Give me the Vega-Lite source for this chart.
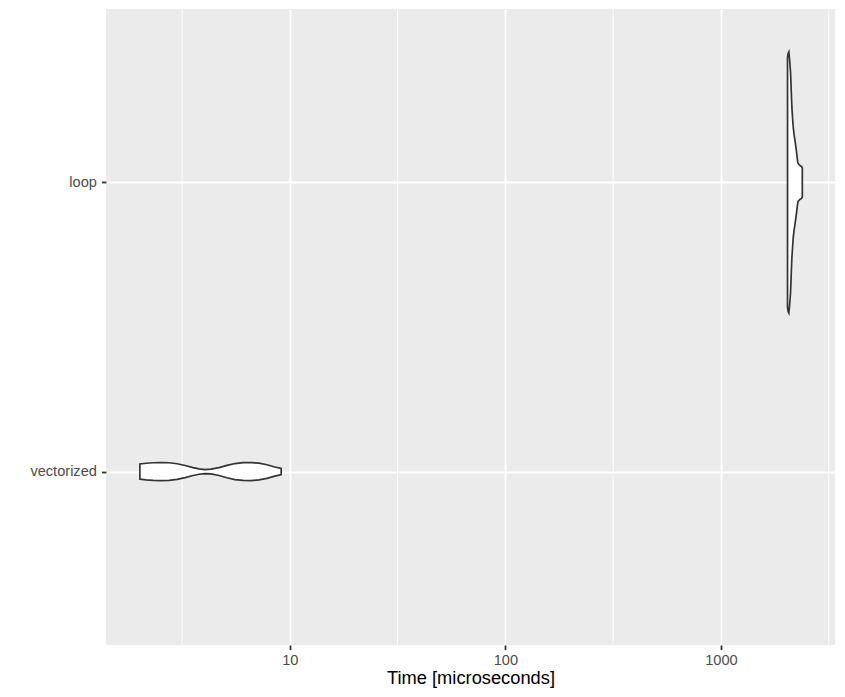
{
  "$schema": "https://vega.github.io/schema/vega-lite/v6.json",
  "width": 729,
  "height": 636,
  "autosize": {"type": "none"},
  "padding": {"left": 106, "top": 9, "right": 10, "bottom": 52},
  "background": "white",
  "config": {
    "view": {"fill": "#EBEBEB", "stroke": null},
    "font": "Liberation Sans"
  },
  "datasets": {
    "violin": [
      {"group": "vectorized", "time": 2.015, "lo": 0.974, "hi": 1.026},
      {"group": "vectorized", "time": 2.154, "lo": 0.9713, "hi": 1.0287},
      {"group": "vectorized", "time": 2.321, "lo": 0.9696, "hi": 1.0304},
      {"group": "vectorized", "time": 2.527, "lo": 0.9689, "hi": 1.0311},
      {"group": "vectorized", "time": 2.754, "lo": 0.9696, "hi": 1.0304},
      {"group": "vectorized", "time": 2.998, "lo": 0.973, "hi": 1.027},
      {"group": "vectorized", "time": 3.265, "lo": 0.9792, "hi": 1.0208},
      {"group": "vectorized", "time": 3.555, "lo": 0.9862, "hi": 1.0138},
      {"group": "vectorized", "time": 3.791, "lo": 0.9907, "hi": 1.0093},
      {"group": "vectorized", "time": 4.042, "lo": 0.9931, "hi": 1.0069},
      {"group": "vectorized", "time": 4.309, "lo": 0.9917, "hi": 1.0083},
      {"group": "vectorized", "time": 4.692, "lo": 0.9862, "hi": 1.0138},
      {"group": "vectorized", "time": 5.108, "lo": 0.9785, "hi": 1.0215},
      {"group": "vectorized", "time": 5.565, "lo": 0.9723, "hi": 1.0277},
      {"group": "vectorized", "time": 6.059, "lo": 0.9692, "hi": 1.0308},
      {"group": "vectorized", "time": 6.598, "lo": 0.9689, "hi": 1.0311},
      {"group": "vectorized", "time": 7.186, "lo": 0.9709, "hi": 1.0291},
      {"group": "vectorized", "time": 7.826, "lo": 0.9765, "hi": 1.0235},
      {"group": "vectorized", "time": 8.432, "lo": 0.9834, "hi": 1.0166},
      {"group": "vectorized", "time": 9.115, "lo": 0.9896, "hi": 1.0104},
      {"group": "loop", "time": 2036, "lo": 1.5675, "hi": 2.4325},
      {"group": "loop", "time": 2050, "lo": 1.5536, "hi": 2.4464},
      {"group": "loop", "time": 2065, "lo": 1.5484, "hi": 2.4516},
      {"group": "loop", "time": 2083, "lo": 1.5779, "hi": 2.4221},
      {"group": "loop", "time": 2103, "lo": 1.6194, "hi": 2.3806},
      {"group": "loop", "time": 2118, "lo": 1.6817, "hi": 2.3183},
      {"group": "loop", "time": 2132, "lo": 1.737, "hi": 2.263},
      {"group": "loop", "time": 2148, "lo": 1.7751, "hi": 2.2249},
      {"group": "loop", "time": 2162, "lo": 1.8062, "hi": 2.1938},
      {"group": "loop", "time": 2183, "lo": 1.8339, "hi": 2.1661},
      {"group": "loop", "time": 2201, "lo": 1.8512, "hi": 2.1488},
      {"group": "loop", "time": 2237, "lo": 1.8893, "hi": 2.1107},
      {"group": "loop", "time": 2268, "lo": 1.9273, "hi": 2.0727},
      {"group": "loop", "time": 2280, "lo": 1.9343, "hi": 2.0657},
      {"group": "loop", "time": 2322, "lo": 1.9412, "hi": 2.0588},
      {"group": "loop", "time": 2364, "lo": 1.9446, "hi": 2.0554},
      {"group": "loop", "time": 2385, "lo": 1.9498, "hi": 2.0502}
    ],
    "minor": [
      {"time": 3.162},
      {"time": 31.62},
      {"time": 316.2},
      {"time": 3162}
    ]
  },
  "encoding": {
    "x": {
      "field": "time",
      "type": "quantitative",
      "scale": {"type": "log", "domain": [1.403, 3381], "nice": false, "zero": false},
      "axis": {
        "title": "Time [microseconds]",
        "titleFontSize": 18.3,
        "titleColor": "#000000",
        "titleFontWeight": "normal",
        "titlePadding": 2,
        "values": [10, 100, 1000],
        "format": "d",
        "labelFontSize": 14.6,
        "labelColor": "#4D4D4D",
        "labelPadding": 3,
        "tickColor": "#333333",
        "tickSize": 4.6,
        "tickWidth": 1.8,
        "domain": false,
        "grid": true,
        "gridColor": "#FFFFFF",
        "gridWidth": 1.8
      }
    }
  },
  "layer": [
    {
      "data": {"name": "minor"},
      "mark": {"type": "rule", "color": "#FFFFFF", "strokeWidth": 0.9}
    },
    {
      "data": {"name": "violin"},
      "mark": {"type": "area", "orient": "vertical", "fill": "#FFFFFF", "stroke": "#333333", "strokeWidth": 1.7, "interpolate": "linear"},
      "encoding": {
        "y": {
          "field": "lo",
          "type": "quantitative",
          "scale": {"domain": [0.4, 2.6], "nice": false, "zero": false},
          "axis": {
            "title": null,
            "values": [1, 2],
            "labelExpr": "datum.value == 2 ? 'loop' : 'vectorized'",
            "labelFontSize": 14.6,
            "labelColor": "#4D4D4D",
            "labelPadding": 5,
            "tickColor": "#333333",
            "tickSize": 4.6,
            "tickWidth": 1.8,
            "domain": false,
            "grid": true,
            "gridColor": "#FFFFFF",
            "gridWidth": 1.8
          }
        },
        "y2": {"field": "hi"},
        "detail": {"field": "group", "type": "nominal"}
      }
    }
  ]
}
